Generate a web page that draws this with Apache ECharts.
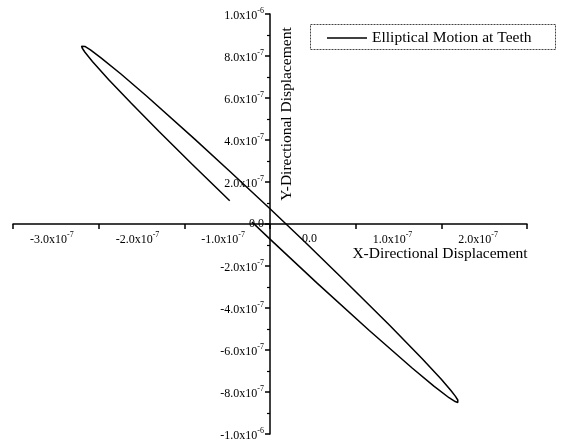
<!DOCTYPE html>
<html>
<head>
<meta charset="utf-8">
<script src="https://cdn.jsdelivr.net/npm/echarts@6/dist/echarts.min.js"></script>
<style>
html,body{margin:0;padding:0;background:#fff;}
#chart{width:564px;height:447px;}
</style>
</head>
<body>
<div id="chart"></div>
<script>
// Data
const seriesName = 'Elliptical Motion at Teeth';
const xValues = [
  -0.470e-7, -0.915e-7, -1.295e-7, -1.622e-7, -1.885e-7, -2.073e-7, -2.160e-7, -2.191e-7, -2.200e-7,
  -2.191e-7, -2.161e-7, -2.096e-7, -1.973e-7, -1.740e-7, -1.438e-7, -0.882e-7, -0.464e-7, 0.000e-7,
  0.411e-7, 0.830e-7, 1.396e-7, 1.774e-7, 1.997e-7, 2.112e-7, 2.163e-7, 2.192e-7, 2.200e-7,
  2.192e-7, 2.162e-7, 2.090e-7, 1.913e-7, 1.659e-7, 1.159e-7, 0.553e-7, 0.000e-7, -0.211e-7
];
const yValues = [
  1.103e-7, 2.869e-7, 4.401e-7, 5.758e-7, 6.885e-7, 7.739e-7, 8.179e-7, 8.367e-7, 8.469e-7,
  8.500e-7, 8.455e-7, 8.289e-7, 7.914e-7, 7.141e-7, 6.083e-7, 4.053e-7, 2.491e-7, 0.725e-7,
  -0.870e-7, -2.533e-7, -4.823e-7, -6.400e-7, -7.384e-7, -7.930e-7, -8.196e-7, -8.380e-7, -8.469e-7,
  -8.500e-7, -8.456e-7, -8.273e-7, -7.720e-7, -6.859e-7, -5.074e-7, -2.828e-7, -0.722e-7, 0.094e-7
];
const xTickLabels = ['-3.0x10^-7', '-2.0x10^-7', '-1.0x10^-7', '0.0', '1.0x10^-7', '2.0x10^-7', ''];
const yTickLabels = ['-1.0x10^-6', '-8.0x10^-7', '-6.0x10^-7', '-4.0x10^-7', '-2.0x10^-7', '0.0',
  '2.0x10^-7', '4.0x10^-7', '6.0x10^-7', '8.0x10^-7', '1.0x10^-6'];
const xAxisName = 'X-Directional Displacement';
const yAxisName = 'Y-Directional Displacement';

const xMin = -3e-7, xMax = 3e-7, xInterval = 1e-7;
const yMin = -1e-6, yMax = 1e-6, yInterval = 2e-7;

const FONT = '"Liberation Serif", "DejaVu Serif", serif';

// grid geometry
const GL = 13, GR = 37, GT = 14, GB = 13, W = 564, H = 447;
const gridW = W - GL - GR, gridH = H - GT - GB;
const zeroX = GL + gridW * (0 - xMin) / (xMax - xMin);
const zeroY = GT + gridH * (yMax - 0) / (yMax - yMin);

function richLabel(str) {
  if (!str) return '';
  if (str.indexOf('^') < 0) return '{z|' + str + '}';
  const parts = str.split('^');
  return '{b|' + parts[0] + '}{s|' + parts[1] + '}';
}
const richStyles = {
  b: { fontFamily: FONT, fontSize: 12, color: '#000', verticalAlign: 'bottom', lineHeight: 15 },
  s: { fontFamily: FONT, fontSize: 8, color: '#000', verticalAlign: 'top', lineHeight: 15 },
  z: { fontFamily: FONT, fontSize: 12, color: '#000', lineHeight: 15 }
};

const data = xValues.map((x, i) => [x, yValues[i]]);

const chart = echarts.init(document.getElementById('chart'), null, { renderer: 'canvas' });
chart.setOption({
  animation: false,
  backgroundColor: '#fff',
  grid: { left: GL, right: GR, top: GT, bottom: GB, containLabel: false, outerBoundsMode: 'none' },
  legend: {
    data: [{ name: seriesName, icon: 'rect' }],
    left: 327, top: 30,
    padding: 0,
    itemWidth: 40, itemHeight: 1.6,
    itemStyle: { color: '#000' },
    textStyle: { fontFamily: FONT, fontSize: 15.5, color: '#000' }
  },
  xAxis: {
    type: 'value',
    min: xMin, max: xMax, interval: xInterval,
    position: 'bottom',
    offset: -(H - GB - zeroY),
    axisLine: { onZero: false, lineStyle: { color: '#000', width: 1.5 } },
    axisTick: { show: true, inside: false, length: 5, lineStyle: { color: '#000', width: 1.5 } },
    splitLine: { show: false },
    axisLabel: {
      margin: 7,
      align: 'left',
      padding: [0, 0, 0, 17],
      showMinLabel: true, showMaxLabel: true,
      formatter: function (v) {
        const idx = Math.round((v - xMin) / xInterval);
        const s = xTickLabels[idx] || '';
        if (s === '0.0') return '{zz|0.0}';
        return richLabel(s);
      },
      rich: Object.assign({}, richStyles, {
        zz: { fontFamily: FONT, fontSize: 12, color: '#000', lineHeight: 15, padding: [0, 0, 0, 15] }
      })
    }
  },
  yAxis: {
    type: 'value',
    min: yMin, max: yMax, interval: yInterval,
    position: 'left',
    offset: -(zeroX - GL),
    axisLine: { onZero: false, lineStyle: { color: '#000', width: 1.5 } },
    axisTick: { show: true, inside: false, length: 5, lineStyle: { color: '#000', width: 1.5 } },
    minorTick: { show: true, splitNumber: 2, length: 3, lineStyle: { color: '#000', width: 1.2 } },
    splitLine: { show: false },
    axisLabel: {
      margin: 6,
      showMinLabel: true, showMaxLabel: true,
      formatter: function (v) {
        const idx = Math.round((v - yMin) / yInterval);
        return richLabel(yTickLabels[idx] || '');
      },
      rich: richStyles
    }
  },
  graphic: [
    {
      type: 'rect',
      shape: { x: 310.5, y: 24.5, width: 245, height: 25 },
      style: { fill: 'none', stroke: '#444', lineWidth: 1, lineDash: [2, 1] },
      silent: true
    },
    {
      type: 'text',
      x: 440, y: 254,
      style: { text: xAxisName, fontFamily: FONT, fontSize: 15.5, fill: '#000', align: 'center', verticalAlign: 'middle', textAlign: 'center', textVerticalAlign: 'middle' },
      silent: true
    },
    {
      type: 'text',
      x: 287, y: 114,
      rotation: Math.PI / 2,
      style: { text: yAxisName, fontFamily: FONT, fontSize: 15.5, fill: '#000', align: 'center', verticalAlign: 'middle', textAlign: 'center', textVerticalAlign: 'middle' },
      silent: true
    }
  ],
  series: [{
    name: seriesName,
    type: 'line',
    data: data,
    symbol: 'none',
    showSymbol: false,
    smooth: false,
    lineStyle: { color: '#000', width: 1.5 },
    itemStyle: { color: '#000' }
  }]
});
</script>
</body>
</html>
